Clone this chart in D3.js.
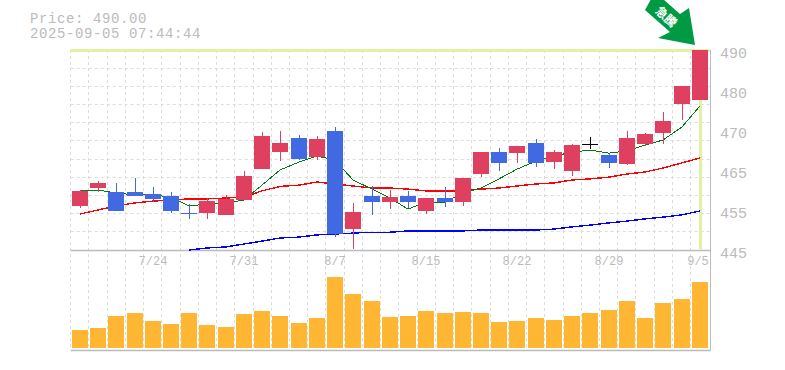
<!DOCTYPE html>
<html>
<head>
<meta charset="utf-8">
<style>
html, body { margin: 0; padding: 0; background: #fff; }
svg { display: block; }
text { font-family: "Liberation Mono", monospace; fill: #bbb; }
</style>
<script src="https://cdnjs.cloudflare.com/ajax/libs/d3/7.8.5/d3.min.js"></script>
</head>
<body>
<svg id="chart" width="785" height="370"></svg>
<script>
var dates = ["7/17","7/18","7/22","7/23","7/24","7/25","7/28","7/29","7/30","7/31",
    "8/1","8/4","8/5","8/6","8/7","8/8","8/12","8/13","8/14","8/15",
    "8/18","8/19","8/20","8/21","8/22","8/25","8/26","8/27","8/28","8/29",
    "9/1","9/2","9/3","9/4","9/5"];
var opens = [454.9,459.0,458.05,458.05,457.6,457.15,453.3,453.3,452.9,456.25,
    463.2,467.0,470.2,465.9,471.8,449.7,457.15,455.8,457.15,453.8,
    456.7,455.8,462.1,467.0,466.8,469.1,464.8,462.8,468.75,466.4,
    464.35,468.85,471.3,477.85,478.75];
var closes = [458.3,460.1,453.8,457.15,456.5,453.8,453.1,456.0,456.5,461.65,
    470.65,469.1,465.5,470.0,448.6,453.55,455.8,456.9,455.8,456.7,
    455.8,461.2,467.0,464.6,468.4,464.6,467.0,468.6,468.75,464.6,
    470.2,471.1,474.0,481.9,490.0];
var highs = [458.5,460.5,460.1,461.2,459.2,458.05,455.35,456.7,457.4,462.8,
    471.55,471.8,470.9,470.65,472.7,455.6,459.4,458.5,458.3,456.7,
    459.2,461.2,467.0,467.95,468.4,470.0,467.5,468.85,470.4,466.8,
    471.8,471.3,476.0,481.9,490.0];
var lows = [454.5,458.05,453.8,457.15,455.8,453.3,452.0,452.0,452.9,456.25,
    463.2,465.0,465.25,465.25,447.9,445.2,452.9,454.2,454.45,453.1,
    454.7,454.9,461.4,462.8,464.6,463.7,463.2,461.65,467.7,463.45,
    464.1,468.4,468.85,474.25,478.75];
var volumes = [18,20,32,35,27,24,35,23,21,34,37,32,25,30,71,54,47,31,32,37,
    35,36,35,26,27,30,28,32,35,38,47,30,45,49,66];
var ma5 = [458.3,458.5,457.8,457.4,457.4,456.9,454.9,455.35,455.6,456.25,
    459.6,463.0,464.8,466.15,465.25,460.75,458.7,456.7,454.2,455.8,
    455.8,457.8,458.95,461.0,463.2,465.0,466.15,467.0,467.5,466.8,
    467.3,468.6,469.75,472.7,477.4];
var ma25 = [453.1,454.0,454.9,455.6,456.0,456.25,456.5,456.5,456.7,456.9,
    458.3,459.3,459.6,460.3,459.85,459.4,458.95,458.95,458.7,458.3,
    458.3,458.3,458.7,458.95,459.4,459.85,460.1,460.75,461.0,461.4,
    462.1,462.55,463.45,464.6,465.7];
var ma75 = [null,null,null,null,null,null,445.0,445.45,445.7,446.35,
    447.0,447.7,447.9,448.4,448.6,448.8,449.0,449.0,449.3,449.3,
    449.3,449.3,449.5,449.5,449.5,449.5,449.7,450.2,450.6,451.1,
    451.5,452.0,452.4,452.9,453.8];
var yTicks = [490,481,472,463,454,445];
var yTickLabels = ["490","480","470","465","455","445"];
var dateLabels = ["7/24","7/31","8/7","8/15","8/22","8/29","9/5"];
var priceText = "Price: 490.00";
var timeText = "2025-09-05 07:44:44";
var badgeText = "急騰";

var RED = "#e04060", BLUE = "#4169e1", GRID = "#dcdcdc", FRAME = "#bbbbbb",
    MARK = "#e0f2a2", VOL = "#ffb733";

var svg = d3.select("#chart");
var left = 70.7, right = 710, plotTop = 50, plotBottom = 250, volBottom = 350;

var x = d3.scaleBand().domain(dates).range([left, 708.9]);
var y = d3.scaleLinear().domain([445, 490]).range([plotBottom, plotTop]);
var vol = d3.scaleLinear().domain([0, d3.max(volumes)]).range([348, 277]);
var cx = function(d) { return Math.round(x(d) + x.bandwidth() / 2); };
var px = function(v) { return Math.floor(v) + 0.5; };

// grid
var grid = svg.append("g").attr("stroke", GRID).attr("stroke-dasharray", "3,3").attr("fill", "none");
grid.selectAll("line.v").data(dates).enter().append("line")
    .attr("class", "v")
    .attr("x1", function(d) { return px(x(d)); })
    .attr("x2", function(d) { return px(x(d)); })
    .attr("y1", plotTop).attr("y2", volBottom);
grid.selectAll("line.h").data(d3.range(1, 11)).enter().append("line")
    .attr("class", "h")
    .attr("x1", left).attr("x2", right)
    .attr("y1", function(i) { return px(plotTop + i * (plotBottom - plotTop) / 11); })
    .attr("y2", function(i) { return px(plotTop + i * (plotBottom - plotTop) / 11); });

// frame
var frame = svg.append("g").attr("stroke", FRAME).attr("fill", "none");
frame.append("line").attr("x1", left).attr("x2", right + 1).attr("y1", plotBottom + 0.5).attr("y2", plotBottom + 0.5).attr("stroke-width", 1.5);
frame.append("line").attr("x1", left).attr("x2", right + 1).attr("y1", volBottom + 0.5).attr("y2", volBottom + 0.5).attr("stroke-width", 1.5);
frame.append("line").attr("x1", right + 0.5).attr("x2", right + 0.5).attr("y1", plotTop).attr("y2", volBottom);

// latest price / latest day markers
svg.append("rect").attr("x", left).attr("y", y(490) - 1).attr("width", right - left).attr("height", 3).attr("fill", MARK);
svg.append("rect").attr("x", cx(dates[34]) - 1).attr("y", plotTop).attr("width", 3).attr("height", plotBottom - plotTop - 1).attr("fill", MARK);

// volume
svg.append("g").selectAll("rect").data(dates).enter().append("rect")
    .attr("x", function(d) { return cx(d) - 8; })
    .attr("width", 16)
    .attr("y", function(d, i) { return Math.round(vol(volumes[i])); })
    .attr("height", function(d, i) { return 348 - Math.round(vol(volumes[i])); })
    .attr("fill", VOL);

// moving averages
function maLine(values) {
    return d3.line()
        .defined(function(d, i) { return values[i] !== null; })
        .x(function(d) { return cx(d); })
        .y(function(d, i) { return y(values[i]); })(dates);
}
svg.append("path").attr("d", maLine(ma75)).attr("fill", "none").attr("stroke", "#0000ff").attr("stroke-width", 1.4).attr("shape-rendering", "crispEdges");
svg.append("path").attr("d", maLine(ma25)).attr("fill", "none").attr("stroke", "#ff0000").attr("stroke-width", 1.4).attr("shape-rendering", "crispEdges");
svg.append("path").attr("d", maLine(ma5)).attr("fill", "none").attr("stroke", "#007a14").attr("stroke-width", 1).attr("shape-rendering", "crispEdges");

// candles
function candleColor(i) {
    if (opens[i] === closes[i]) return "#000";
    return closes[i] > opens[i] ? RED : BLUE;
}
var candles = svg.append("g").attr("shape-rendering", "crispEdges");
candles.selectAll("line").data(dates).enter().append("line")
    .attr("x1", function(d) { return cx(d) + 0.5; })
    .attr("x2", function(d) { return cx(d) + 0.5; })
    .attr("y1", function(d, i) { return y(highs[i]); })
    .attr("y2", function(d, i) { return y(lows[i]); })
    .attr("stroke", function(d, i) { return candleColor(i); });
candles.selectAll("rect").data(dates).enter().append("rect")
    .attr("x", function(d) { return cx(d) - 8; })
    .attr("width", 16)
    .attr("y", function(d, i) { return Math.round(y(Math.max(opens[i], closes[i]))); })
    .attr("height", function(d, i) {
        return Math.max(1, Math.round(y(Math.min(opens[i], closes[i]))) - Math.round(y(Math.max(opens[i], closes[i]))));
    })
    .attr("fill", function(d, i) { return candleColor(i); });

// axis labels
svg.append("g").selectAll("text").data(yTicks).enter().append("text")
    .attr("x", 720)
    .attr("y", function(d) { return y(d) + 8; })
    .attr("font-size", 15)
    .text(function(d, i) { return yTickLabels[i]; });
svg.append("g").selectAll("text").data(dateLabels).enter().append("text")
    .attr("x", function(d) { return d === "9/5" ? cx(d) - 2 : cx(d); })
    .attr("y", 265)
    .attr("text-anchor", "middle")
    .attr("font-size", 12)
    .text(function(d) { return d; });

// header
svg.append("text").attr("x", 30).attr("y", 22.5).attr("font-size", 14).attr("letter-spacing", 0.6).text(priceText);
svg.append("text").attr("x", 30).attr("y", 38).attr("font-size", 14).attr("letter-spacing", 0.6).text(timeText);

// arrow badge pointing at the last candle
var tipX = cx(dates[34]) - 5, tipY = y(490) - 5;
var arrow = [[0,0],[-6,-37],[-15,-31],[-40,-53],[-50,-35],[-25,-13],[-37,-7]];
svg.append("polygon")
    .attr("points", arrow.map(function(p) { return (tipX + p[0]) + "," + (tipY + p[1]); }).join(" "))
    .attr("fill", "#009944");
svg.append("text")
    .attr("transform", "translate(" + (tipX - 28) + "," + (tipY - 29) + ") rotate(42)")
    .attr("text-anchor", "middle")
    .attr("dominant-baseline", "central")
    .style("font-family", '"Noto Sans CJK JP"')
    .style("font-weight", "700")
    .style("fill", "#fff")
    .attr("font-size", 12)
    .text(badgeText);
</script>
</body>
</html>
